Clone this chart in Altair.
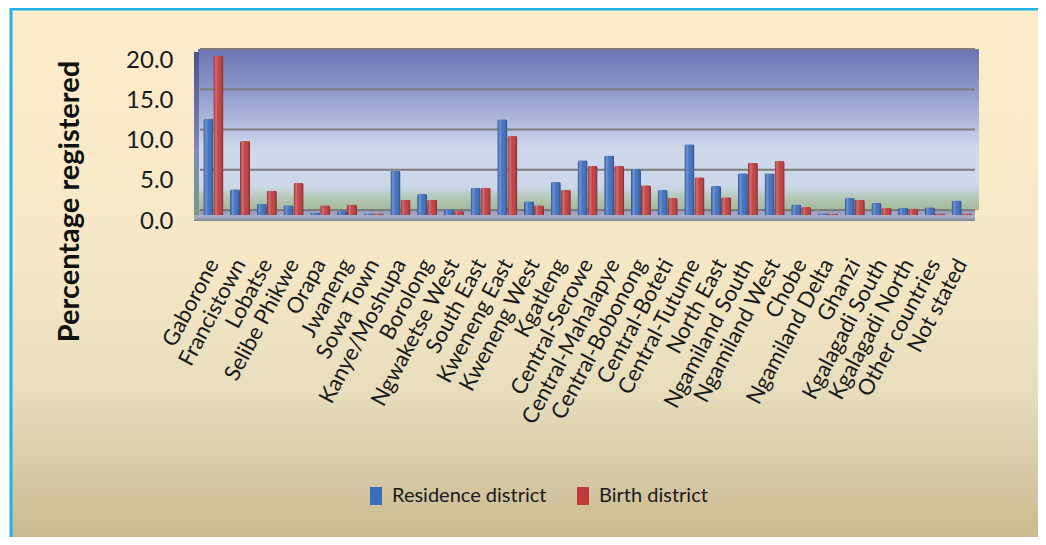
import altair as alt
import pandas as pd

districts = ["Gaborone", "Francistown", "Lobatse", "Selibe Phikwe", "Orapa", "Jwaneng",
             "Sowa Town", "Kanye/Moshupa", "Borolong", "Ngwaketse West", "South East",
             "Kweneng East", "Kweneng West", "Kgatleng", "Central-Serowe", "Central-Mahalapye",
             "Central-Bobonong", "Central-Boteti", "Central-Tutume", "North East",
             "Ngamiland South", "Ngamiland West", "Chobe", "Ngamiland Delta", "Ghanzi",
             "Kgalagadi South", "Kgalagadi North", "Other countries", "Not stated"]
residence = [12.0, 3.2, 1.4, 1.2, 0.3, 0.5, 0.2, 5.5, 2.6, 0.7, 3.4, 11.9, 1.7, 4.1, 6.8, 7.4,
             5.7, 3.1, 8.8, 3.6, 5.2, 5.2, 1.3, 0.2, 2.1, 1.5, 0.9, 0.95, 1.8]
birth = [19.8, 9.2, 3.0, 4.0, 1.2, 1.3, 0.2, 1.9, 1.9, 0.5, 3.4, 9.8, 1.2, 3.1, 6.1, 6.1,
         3.7, 2.1, 4.7, 2.2, 6.5, 6.7, 1.0, 0.15, 1.9, 0.9, 0.8, 0.2, 0.2]
series_names = ["Residence district", "Birth district"]
series_colors = ["#3a6cbf", "#c0393b"]
y_ticks = [0, 5, 10, 15, 20]

rows = []
for d, r, b in zip(districts, residence, birth):
    rows.append({"district": d, "series": series_names[0], "value": r})
    rows.append({"district": d, "series": series_names[1], "value": b})
df = pd.DataFrame(rows)
grid_df = pd.DataFrame({"value": y_ticks})
one = alt.Data(values=[{"k": 1}])

FONT = "Lato"
W, H = 775, 161
PAD_L, PAD_T, PAD_R, PAD_B = 192, 46, 63, 322

y_scale = alt.Scale(domain=[0, 20], nice=False, zero=True)
y_axis = alt.Axis(values=y_ticks, format=".1f", title="Percentage registered",
                  grid=False, domain=False, ticks=False, tickSize=0,
                  labelFont=FONT, labelFontSize=24, labelColor="#1a1a1a",
                  labelPadding=27, labelOffset=6,
                  titleFont=FONT, titleFontSize=29, titleFontWeight="bold",
                  titleColor="#111111", titleX=-131, titleY=147,
                  titleAlign="center", titleBaseline="middle", titleAngle=-90,
                  zindex=1)
x_axis = alt.Axis(title=None, domain=False, ticks=False, tickSize=0, grid=False,
                  labelAngle=-62, labelAlign="right", labelBaseline="middle",
                  labelFont=FONT, labelFontSize=22, labelColor="#1a1a1a",
                  labelPadding=45, labelLimit=300, zindex=1)

# whole-chart gradient background with border
page_bg = alt.Chart(one).mark_rect(
    fill=alt.LinearGradient(gradient="linear", x1=0, x2=0, y1=0, y2=1, stops=[
        alt.GradientStop(offset=0, color="#fdecca"),
        alt.GradientStop(offset=0.45, color="#f6e8c7"),
        alt.GradientStop(offset=0.7, color="#e7ddbd"),
        alt.GradientStop(offset=1, color="#c6b58c")]),
    stroke="#1fb2ea", strokeWidth=3
).encode(x=alt.value(-189), x2=alt.value(W + PAD_R + 20),
         y=alt.value(-PAD_T + 1), y2=alt.value(H + PAD_B + 20))

# plot wall gradient
wall = alt.Chart(one).mark_rect(
    fill=alt.LinearGradient(gradient="linear", x1=0, x2=0, y1=0, y2=1, stops=[
        alt.GradientStop(offset=0, color="#6d74b5"),
        alt.GradientStop(offset=0.25, color="#8f97c9"),
        alt.GradientStop(offset=0.5, color="#b9c2e2"),
        alt.GradientStop(offset=0.62, color="#d0d8ec"),
        alt.GradientStop(offset=0.85, color="#ccd8ea"),
        alt.GradientStop(offset=0.93, color="#b3c6b4"),
        alt.GradientStop(offset=1, color="#a3b89c")])
).encode(x=alt.value(-2), x2=alt.value(W + 4), y=alt.value(-5), y2=alt.value(H - 5))

floor = alt.Chart(one).mark_rect(
    fill=alt.LinearGradient(gradient="linear", x1=0, x2=0, y1=0, y2=1, stops=[
        alt.GradientStop(offset=0, color="#8f97b8"),
        alt.GradientStop(offset=0.6, color="#a9b0c8"),
        alt.GradientStop(offset=1, color="#7f8598")])
).encode(x=alt.value(-6), x2=alt.value(W), y=alt.value(H - 5), y2=alt.value(H + 6))

left_wall = alt.Chart(one).mark_rect(
    fill=alt.LinearGradient(gradient="linear", x1=0, x2=0, y1=0, y2=1, stops=[
        alt.GradientStop(offset=0, color="#4a5290"),
        alt.GradientStop(offset=0.6, color="#7f88b8"),
        alt.GradientStop(offset=1, color="#7c9a86")])
).encode(x=alt.value(-6), x2=alt.value(-1), y=alt.value(-2), y2=alt.value(H))

grid = alt.Chart(grid_df).mark_rule(color="#7c7c7c", strokeWidth=2, yOffset=-5).encode(
    y=alt.Y("value:Q", scale=y_scale, axis=y_axis))

x_enc = alt.X("district:N", sort=districts, axis=x_axis,
              scale=alt.Scale(paddingInner=0.25, paddingOuter=0.125))
xo_enc = alt.XOffset("series:N", sort=series_names,
                     scale=alt.Scale(domain=series_names))
y_enc = alt.Y("value:Q", scale=y_scale, axis=y_axis)

bars = alt.Chart(df).mark_bar(cornerRadiusTopLeft=2, cornerRadiusTopRight=2).encode(
    x=x_enc, xOffset=xo_enc, y=y_enc,
    color=alt.Color("series:N", sort=series_names,
                    scale=alt.Scale(domain=series_names, range=series_colors),
                    legend=alt.Legend(title=None, orient="none", direction="horizontal",
                                      legendX=166, legendY=432,
                                      symbolType="M-0.67,-1H0.67V1H-0.67Z",
                                      symbolSize=324, symbolStrokeWidth=0,
                                      symbolOpacity=1, labelFont=FONT,
                                      labelFontSize=20, labelColor="#1a1a1a",
                                      labelOffset=6, columnPadding=26,
                                      labelLimit=400)))

shade = alt.Chart(df).mark_bar(
    cornerRadiusTopLeft=2, cornerRadiusTopRight=2,
    fill=alt.LinearGradient(gradient="linear", x1=0, x2=1, y1=0, y2=0, stops=[
        alt.GradientStop(offset=0, color="rgba(0,0,0,0.30)"),
        alt.GradientStop(offset=0.25, color="rgba(255,255,255,0.28)"),
        alt.GradientStop(offset=0.5, color="rgba(255,255,255,0.05)"),
        alt.GradientStop(offset=1, color="rgba(0,0,0,0.32)")])
).encode(x=x_enc, xOffset=xo_enc, y=y_enc)

chart = alt.layer(page_bg, wall, floor, left_wall, grid, bars, shade).properties(
    width=W, height=H,
    autosize=alt.AutoSizeParams(type="none"),
    padding={"left": PAD_L, "top": PAD_T, "right": PAD_R, "bottom": PAD_B},
    background="white",
).configure_view(stroke=None)

chart.save("out.html", embed_options={"renderer": "svg", "actions": False})
